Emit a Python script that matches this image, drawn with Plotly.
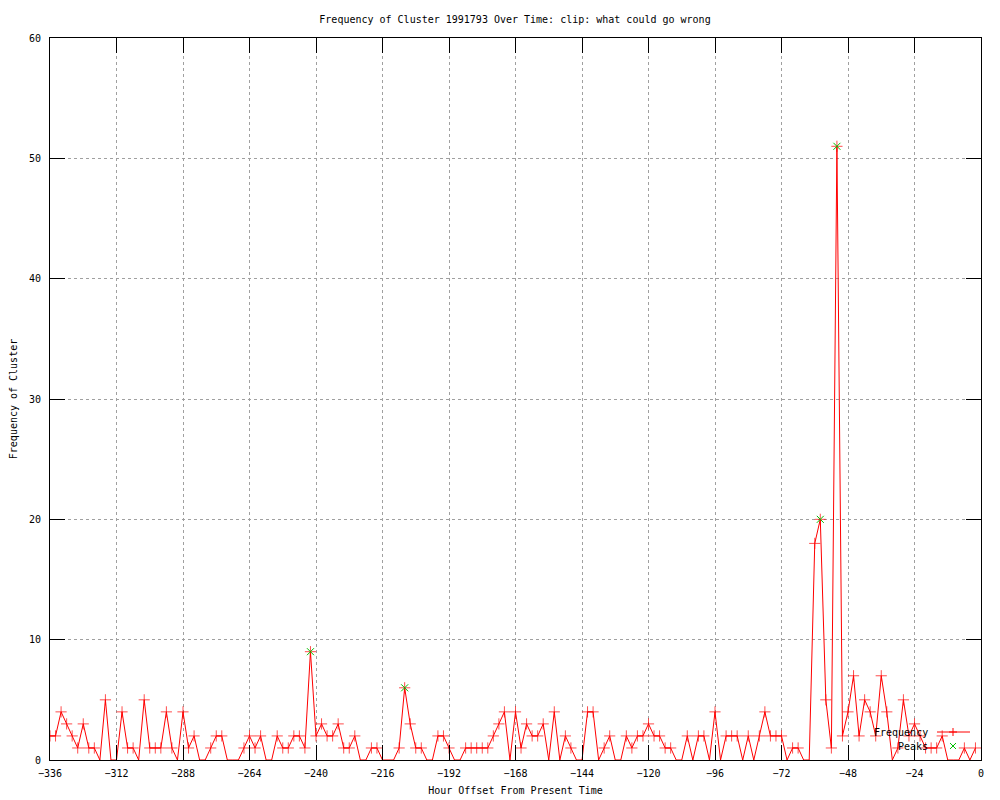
import plotly.graph_objects as go

# Hour offsets (every 2 hours) and cluster frequency
hours = list(range(-336, 0, 2))
frequency = [
    2, 2, 4, 3, 2, 1, 3, 1, 1, 0, 5, 0, 0, 4, 1, 1, 0, 5, 1, 1,
    1, 4, 1, 0, 4, 1, 2, 0, 0, 1, 2, 2, 0, 0, 0, 1, 2, 1, 2, 0,
    0, 2, 1, 1, 2, 2, 1, 9, 2, 3, 2, 2, 3, 1, 1, 2, 0, 0, 1, 1,
    0, 0, 0, 1, 6, 3, 1, 1, 0, 0, 2, 2, 1, 0, 0, 1, 1, 1, 1, 1,
    2, 3, 4, 0, 4, 1, 3, 2, 2, 3, 0, 4, 0, 2, 1, 0, 0, 4, 4, 0,
    1, 2, 0, 0, 2, 1, 2, 2, 3, 2, 2, 1, 1, 0, 0, 2, 0, 2, 2, 0,
    4, 0, 2, 2, 2, 0, 2, 0, 2, 4, 2, 2, 2, 0, 1, 1, 0, 0, 18, 20,
    5, 1, 51, 2, 4, 7, 2, 5, 4, 2, 7, 4, 0, 1, 5, 2, 3, 2, 1, 1,
    1, 2, 0, 0, 0, 1, 0, 1,
]
peak_hours = [-242, -208, -58, -52]
peak_values = [9, 6, 20, 51]

x_ticks = list(range(-336, 1, 24))
y_ticks = list(range(0, 61, 10))

RED = "#ff0000"
GREEN = "#00c000"
FONT = "DejaVu Sans Mono"

# points lying on the border are not drawn (gnuplot clips them)
marker_sizes = [0 if v == 0 else 8 for v in frequency]

fig = go.Figure()
fig.add_trace(go.Scatter(
    x=hours, y=frequency, mode="lines+markers", name="Frequency",
    line=dict(color=RED, width=1),
    marker=dict(symbol="cross-thin-open", size=marker_sizes, color=RED,
                line=dict(color=RED, width=1)),
))
fig.add_trace(go.Scatter(
    x=peak_hours, y=peak_values, mode="markers", name="Peaks",
    marker=dict(symbol="x-thin-open", size=7, color=GREEN,
                line=dict(color=GREEN, width=1)),
))

# the page body has an 8px margin, so the figure is offset by 8px
OFF = 8
FW, FH = 1000 - OFF, 800 - OFF
# plot area in page pixels: x 50..981, y 38..760
L, R, T, B = 50, 981, 38, 760
W, H = R - L, B - T


def px(xp):
    return (xp - L) / W


def py(yp):
    return (B - yp) / H


# custom gnuplot-style key (text left of sample)
annotations = [
    dict(text="Frequency", x=px(930), y=py(732), xref="paper", yref="paper",
         xanchor="right", yanchor="middle", showarrow=False,
         font=dict(family=FONT, size=10, color="black")),
    dict(text="Peaks", x=px(930), y=py(746), xref="paper", yref="paper",
         xanchor="right", yanchor="middle", showarrow=False,
         font=dict(family=FONT, size=10, color="black")),
]
shapes = [
    dict(type="line", xref="paper", yref="paper", x0=px(937), x1=px(970),
         y0=py(732), y1=py(732), line=dict(color=RED, width=1)),
    dict(type="line", xref="paper", yref="paper", x0=px(949), x1=px(957),
         y0=py(732), y1=py(732), line=dict(color=RED, width=1)),
    dict(type="line", xref="paper", yref="paper", x0=px(953), x1=px(953),
         y0=py(728), y1=py(736), line=dict(color=RED, width=1)),
    dict(type="line", xref="paper", yref="paper", x0=px(950), x1=px(956),
         y0=py(743), y1=py(749), line=dict(color=GREEN, width=1)),
    dict(type="line", xref="paper", yref="paper", x0=px(950), x1=px(956),
         y0=py(749), y1=py(743), line=dict(color=GREEN, width=1)),
]

axis_common = dict(
    showline=True, linecolor="black", linewidth=1, mirror="ticks",
    ticks="inside", ticklen=15, tickwidth=1, tickcolor="black",
    showgrid=True, gridcolor="#a0a0a0", griddash="dot", gridwidth=1,
    zeroline=False, tickfont=dict(family=FONT, size=10, color="black"),
)

fig.update_layout(
    width=FW, height=FH,
    margin=dict(l=L - OFF, r=FW - (R - OFF), t=T - OFF, b=FH - (B - OFF),
                autoexpand=False),
    paper_bgcolor="white", plot_bgcolor="white",
    showlegend=False,
    title=dict(text="Frequency of Cluster 1991793 Over Time: clip: what could go wrong",
               x=(515 - OFF) / FW, xanchor="center",
               y=1 - (19 - OFF) / FH, yanchor="middle",
               font=dict(family=FONT, size=10, color="black")),
    xaxis=dict(range=[-336, 0], tickvals=x_ticks, ticklabelstandoff=4,
               title=dict(text="Hour Offset From Present Time", standoff=8,
                          font=dict(family=FONT, size=10, color="black")),
               **axis_common),
    yaxis=dict(range=[0, 60], tickvals=y_ticks, ticklabelstandoff=6,
               title=dict(text="Frequency of Cluster", standoff=12,
                          font=dict(family=FONT, size=10, color="black")),
               **axis_common),
    annotations=annotations, shapes=shapes,
)

fig.write_html("out.html")
